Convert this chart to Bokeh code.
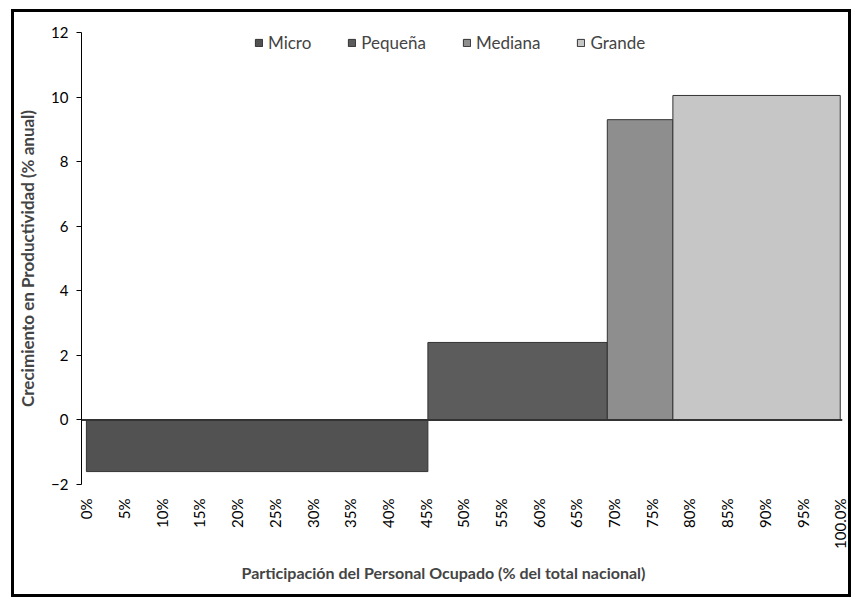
import math
from bokeh.plotting import figure
from bokeh.models import ColumnDataSource, FixedTicker, Span, Range1d, Title
from bokeh.embed import file_html
from bokeh.resources import INLINE

# ---- data ----
categories = ["Micro", "Pequeña", "Mediana", "Grande"]
share_pct = [45.3, 23.8, 8.7, 22.2]          # % del personal ocupado
growth = [-1.6, 2.4, 9.3, 10.05]             # crecimiento productividad % anual
colors = ["#525252", "#5c5c5c", "#8e8e8e", "#c6c6c6"]
x_ticks = list(range(0, 101, 5))
x_tick_labels = [f"{t}%" for t in x_ticks[:-1]] + ["100.0%"]
y_ticks = [-2, 0, 2, 4, 6, 8, 10, 12]
x_title = "Participación del Personal Ocupado (% del total nacional)"
y_title = "Crecimiento en Productividad (% anual)"

lefts, rights = [], []
acc = 0.0
for s in share_pct:
    lefts.append(acc)
    acc += s
    rights.append(acc)

src = ColumnDataSource(dict(
    cat=categories, left=lefts, right=rights,
    top=[max(g, 0) for g in growth], bottom=[min(g, 0) for g in growth],
    color=colors,
))

FONT = "Lato"

p = figure(width=840, height=588, output_backend="svg", toolbar_location=None,
           x_range=Range1d(-0.65, 100.3), y_range=Range1d(-2, 12),
           min_border_left=65, min_border_right=12, min_border_top=20, min_border_bottom=116)
p.styles = {"border": "3px solid black", "margin-left": "11px", "margin-top": "9px"}
p.outline_line_color = None
p.grid.visible = False
p.background_fill_color = "white"
p.border_fill_color = "white"

p.quad(left="left", right="right", top="top", bottom="bottom", source=src,
       fill_color="color", line_color="#333333", line_width=1, legend_field="cat")

p.add_layout(Span(location=0, dimension="width", line_color="#333333", line_width=2))

# y axis
ya = p.yaxis[0]
ya.ticker = FixedTicker(ticks=y_ticks)
ya.axis_label = y_title
ya.axis_label_text_font = FONT
ya.axis_label_text_font_style = "bold"
ya.axis_label_text_font_size = "17px"
ya.axis_label_standoff = 10
ya.major_label_text_font = FONT
ya.major_label_text_font_size = "15px"
ya.major_label_text_color = "black"
ya.major_label_standoff = 8
ya.major_tick_in = 0
ya.major_tick_out = 5
ya.minor_tick_line_color = None
ya.axis_line_color = "black"

# x axis
xa = p.xaxis[0]
xa.ticker = FixedTicker(ticks=x_ticks)
xa.major_label_overrides = {t: l for t, l in zip(x_ticks, x_tick_labels)}
xa.major_label_orientation = math.pi / 2
xa.major_label_text_font = FONT
xa.major_label_text_font_size = "15px"
xa.major_label_text_color = "black"
xa.axis_line_color = None
xa.major_tick_line_color = None
xa.minor_tick_line_color = None
xa.major_label_standoff = 8

xt = Title(text=x_title, align="left", offset=160, text_font=FONT,
           text_font_style="bold", text_font_size="16px", standoff=19)
p.add_layout(xt, "below")

lg = p.legend[0]
lg.location = (173, 431)
lg.orientation = "horizontal"
lg.border_line_color = None
lg.background_fill_alpha = 0
lg.margin = 0
lg.padding = 4
lg.spacing = 36
lg.glyph_width = 9
lg.glyph_height = 9
lg.label_standoff = 5
lg.label_text_font = FONT
lg.label_text_font_size = "17px"

open("out.html", "w").write(file_html(p, INLINE))
